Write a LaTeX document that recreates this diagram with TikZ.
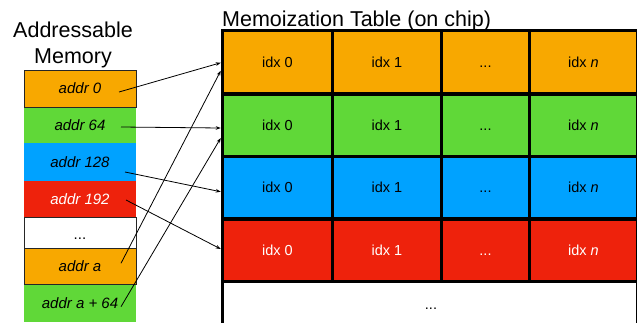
\documentclass[tikz,border=0pt]{standalone}
\usepackage{fontspec}
\setmainfont{Liberation Sans}
\usetikzlibrary{calc,arrows.meta}
\definecolor{korange}{RGB}{248,168,0}
\definecolor{kgreen}{RGB}{96,216,56}
\definecolor{kblue}{RGB}{0,162,255}
\definecolor{kred}{RGB}{238,34,12}
\newcommand\tdots{...}
\begin{document}
\begin{tikzpicture}[x=1pt,y=-1pt,
  memcell/.style={rectangle, inner sep=0pt, minimum width=112pt,
    text height=10.7pt, text depth=0pt, font=\fontsize{15}{18}\selectfont\itshape},
  boxed/.style={draw=black!85, line width=0.8pt},
  tabcell/.style={rectangle, draw=black, line width=3.5pt, inner sep=0pt,
    text height=10.4pt, text depth=0pt, font=\fontsize{14.5}{17}\selectfont},
  title/.style={inner sep=0pt, font=\fontsize{21.5}{26}\selectfont},
  conn/.style={line width=0.8pt, -{Stealth[length=5pt,width=3.6pt]}}
]
\useasboundingbox (0,0) rectangle (637,322);

% ---- addressable memory column ----
\node[title, anchor=base] (memt1) at (73,37) {Addressable};
\node[title, anchor=base] (memt2) at (73,63) {Memory};

\node[memcell, fill=kgreen, minimum height=36pt] (m64) at (80,125) {addr 64};
\node[memcell, fill=kblue, minimum height=38pt] (m128) at (80,162) {addr 128};
\node[memcell, fill=kred, text=white, minimum height=36pt] (m192) at (80,199) {addr 192};
\node[memcell, fill=kgreen, minimum height=38pt] (ma64) at (80,303) {addr a + 64};
\node[memcell, fill=korange, boxed, minimum height=37pt] (m0) at (80,88.5) {addr 0};
\node[memcell, fill=white, boxed, minimum height=31pt] (mdots) at (80,232.5) {};
\node[inner sep=0pt, font=\fontsize{15}{18}\selectfont] (mdotst) at (80,238.5) {...};
\node[memcell, fill=korange, boxed, minimum height=36pt] (ma) at (80,266) {addr a};

% ---- memoization table ----
\node[title, anchor=base west] (tabt) at (222,26) {Memoization Table (on chip)};

\foreach \r/\y/\h/\col/\tc in {1/62.25/63.5/korange/black,
                               2/125.25/62.5/kgreen/black,
                               3/187.75/62.5/kblue/black,
                               4/250.25/62.5/kred/white} {
  \foreach \c/\x/\w/\t in {1/277.5/110/{idx 0},
                           2/387/109/{idx 1},
                           3/485.5/88/{\tdots},
                           4/583.4/107.8/{idx \textit{n}}} {
    \node[tabcell, fill=\col, text=\tc, minimum width=\w pt, minimum height=\h pt]
      (r\r c\c) at (\x,\y) {\t};
  }
}
\node[tabcell, fill=white, minimum width=414.8pt, minimum height=63.5pt] (r5) at (429.9,313.25) {};
\node[inner sep=0pt, font=\fontsize{14.5}{17}\selectfont] (r5dots) at (431,309) {...};

% ---- address to row mapping ----
\draw[conn] ($(m0.center)+(39,3.5)$)   -- ($(r1c1.west)+(0,0.5)$);
\draw[conn] ($(m64.center)+(41,2)$)    -- ($(r2c1.west)+(0,2.75)$);
\draw[conn] ($(m128.center)+(45,10)$)  -- ($(r3c1.west)+(0,4)$);
\draw[conn] ($(m192.center)+(46,1)$)   -- ($(r4c1.west)+(0,-1.25)$);
\draw[conn] ($(ma.center)+(41,-2.7)$)  -- ($(r1c1.west)+(0,8.5)$);
\draw[conn] ($(ma64.center)+(41,3.7)$) -- ($(r2c1.west)+(0,12.75)$);
\end{tikzpicture}
\end{document}
